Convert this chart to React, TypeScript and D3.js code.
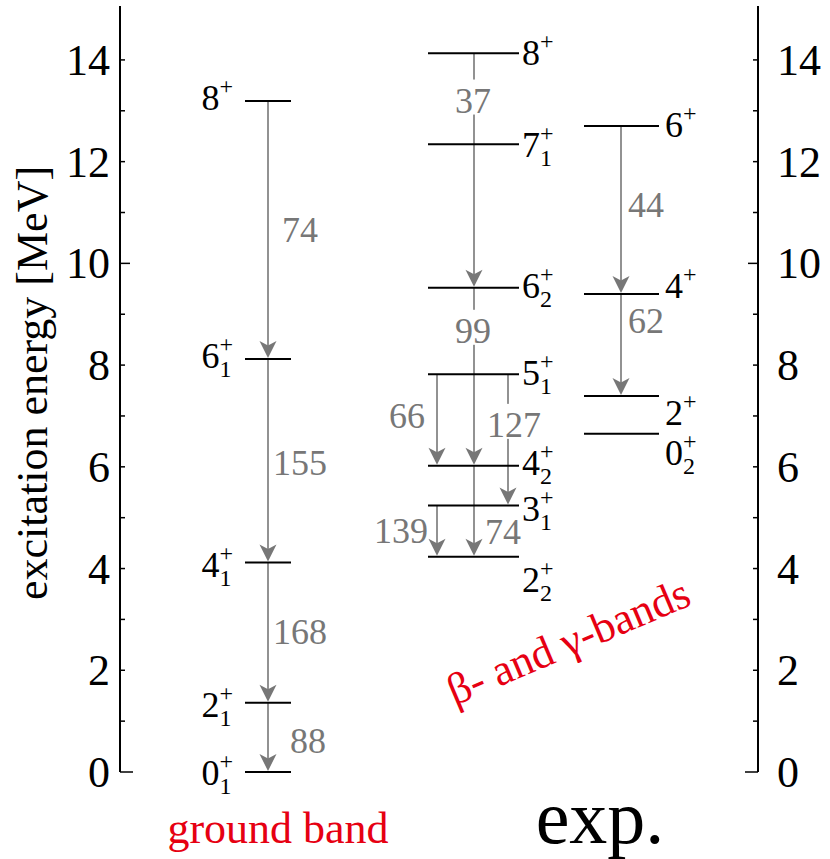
import React from 'react';
import * as d3 from 'd3';

// ---------- data ----------
const yMajorTicks = [0, 2, 4, 6, 8, 10, 12, 14];
const yMinorTicks = [1, 3, 5, 7, 9, 11, 13];

// ground band levels (MeV)
const groundJ = ['0', '2', '4', '6', '8'];
const groundSub = ['1', '1', '1', '1', ''];
const groundE = [0, 1.36, 4.12, 8.12, 13.19];
// transitions: [from index, to index, B(E2) value]
const groundTrans: [number, number, number][] = [
  [4, 3, 74],
  [3, 2, 155],
  [2, 1, 168],
  [1, 0, 88],
];

// beta- and gamma-band levels
const bandJ = ['2', '3', '4', '5', '6', '7', '8'];
const bandSub = ['2', '1', '2', '1', '2', '1', ''];
const bandE = [4.23, 5.24, 6.02, 7.82, 9.52, 12.34, 14.13];
const bandTrans: [number, number, number][] = [
  [6, 4, 37],
  [4, 2, 99],
  [3, 2, 66],
  [3, 1, 127],
  [2, 0, 74],
  [1, 0, 139],
];

// second 0+ band levels
const band2J = ['0', '2', '4', '6'];
const band2Sub = ['2', '', '', ''];
const band2E = [6.65, 7.39, 9.4, 12.7];
const band2Trans: [number, number, number][] = [
  [3, 2, 44],
  [2, 1, 62],
];

// ---------- layout ----------
const W = 830;
const H = 859;
const AX_L = 120;
const AX_R = 758;
const y = d3.scaleLinear().domain([0, 15.06]).range([772, 6]);

const LVL_FONT = 36;
const SCRIPT_FONT = 24;
const TR_FONT = 36;
const GREY = '#777777';
const RED = '#e60012';
const SERIF = '"Liberation Serif", "Times New Roman", serif';

type Place = { ax: number; anchor: 'start' | 'middle' | 'end'; dx: number; dy: number; bg?: boolean };

const groundLayout = {
  x1: 245,
  x2: 291,
  labelX: 233,
  labelAnchor: 'end' as const,
  labelDy: [13, 14, 15, 9, 9],
  trans: [
    { ax: 268, anchor: 'start', dx: 14, dy: 12 },
    { ax: 268, anchor: 'start', dx: 5, dy: 14 },
    { ax: 268, anchor: 'start', dx: 5, dy: 11 },
    { ax: 268, anchor: 'start', dx: 22, dy: 16 },
  ] as Place[],
};

const bandLayout = {
  x1: 428,
  x2: 519,
  labelX: 522,
  labelAnchor: 'start' as const,
  labelDy: [35, 16, 9, 11, 10, 13, 12],
  trans: [
    { ax: 474, anchor: 'middle', dx: -1, dy: -58, bg: true },
    { ax: 474, anchor: 'middle', dx: -1, dy: -34, bg: true },
    { ax: 437, anchor: 'end', dx: -12, dy: 8 },
    { ax: 508, anchor: 'start', dx: -21, dy: -3, bg: true },
    { ax: 474, anchor: 'start', dx: 11, dy: 33 },
    { ax: 437, anchor: 'end', dx: -9, dy: 12 },
  ] as Place[],
};

const band2Layout = {
  x1: 584,
  x2: 659,
  labelX: 665,
  labelAnchor: 'start' as const,
  labelDy: [31, 29, 4, 11],
  trans: [
    { ax: 621, anchor: 'start', dx: 7, dy: 7 },
    { ax: 621, anchor: 'start', dx: 7, dy: -12 },
  ] as Place[],
};

function LevelLabel({ x, yb, J, sub, anchor }: { x: number; yb: number; J: string; sub: string; anchor: 'start' | 'end' }) {
  const mainW = LVL_FONT * 0.5;
  const scriptW = SCRIPT_FONT * 0.564;
  const mainX = anchor === 'start' ? x : x - scriptW;
  const scriptX = anchor === 'start' ? x + mainW : x - scriptW;
  return (
    <g fill="#000" fontFamily={SERIF}>
      <text x={mainX} y={yb} fontSize={LVL_FONT} textAnchor={anchor}>{J}</text>
      <text x={scriptX} y={yb - 16} fontSize={SCRIPT_FONT}>+</text>
      {sub && <text x={scriptX} y={yb + 9} fontSize={SCRIPT_FONT}>{sub}</text>}
    </g>
  );
}

function arrowHead(x: number, tip: number) {
  return `M${x},${tip} L${x - 8.5},${tip - 17} L${x},${tip - 12.5} L${x + 8.5},${tip - 17} Z`;
}

function Band({ J, sub, E, trans, layout }: { J: string[]; sub: string[]; E: number[]; trans: [number, number, number][]; layout: any }) {
  return (
    <g>
      {trans.map(([f, t], i) => {
        const p: Place = layout.trans[i];
        const y1 = y(E[f]);
        const y2 = y(E[t]);
        return (
          <g key={'t' + i}>
            <line x1={p.ax} x2={p.ax} y1={y1} y2={y2 - 12} stroke={GREY} strokeWidth={1.6} />
            <path d={arrowHead(p.ax, y2 - 1)} fill={GREY} />
          </g>
        );
      })}
      {E.map((e, i) => (
        <line key={'l' + i} x1={layout.x1} x2={layout.x2} y1={y(e)} y2={y(e)} stroke="#000" strokeWidth={2} />
      ))}
      {trans.map(([f, t, v], i) => {
        const p: Place = layout.trans[i];
        const ym = (y(E[f]) + y(E[t])) / 2 + p.dy;
        const tx = p.ax + p.dx;
        const s = String(v);
        const w = s.length * TR_FONT * 0.5 + 4;
        const rx = p.anchor === 'start' ? tx - 2 : p.anchor === 'end' ? tx - w + 2 : tx - w / 2;
        return (
          <g key={'v' + i}>
            {p.bg && <rect x={rx} y={ym - 33} width={w} height={35} fill="#fff" />}
            <text x={tx} y={ym} fontSize={TR_FONT} fill={GREY} textAnchor={p.anchor} fontFamily={SERIF}>{s}</text>
          </g>
        );
      })}
      {E.map((e, i) => (
        <LevelLabel key={'n' + i} x={layout.labelX} yb={y(e) + layout.labelDy[i]} J={J[i]} sub={sub[i]} anchor={layout.labelAnchor} />
      ))}
    </g>
  );
}

export default function App() {
  const tickLen = (v: number) => (v === 10 ? 10 : v === 0 ? 13 : 5);
  return (
    <svg width={W} height={H} viewBox={`0 0 ${W} ${H}`} style={{ position: 'absolute', left: 0, top: 0, background: '#fff' }}>
      <rect x={0} y={0} width={W} height={H} fill="#fff" />
      <line x1={AX_L} x2={AX_L} y1={y.range()[1]} y2={y(0)} stroke="#000" strokeWidth={2} />
      {yMajorTicks.concat(yMinorTicks).map((v) => (
        <line key={'lt' + v} x1={AX_L} x2={AX_L + tickLen(v)} y1={y(v)} y2={y(v)} stroke="#000" strokeWidth={1.5} />
      ))}
      {yMajorTicks.map((v) => (
        <text key={'ll' + v} x={110} y={y(v) + 15} fontSize={44} textAnchor="end" fontFamily={SERIF} fill="#000">{v}</text>
      ))}
      <line x1={AX_R} x2={AX_R} y1={y.range()[1]} y2={y(0)} stroke="#000" strokeWidth={2} />
      {yMajorTicks.concat(yMinorTicks).map((v) => (
        <line key={'rt' + v} x1={AX_R} x2={AX_R - tickLen(v)} y1={y(v)} y2={y(v)} stroke="#000" strokeWidth={1.5} />
      ))}
      {yMajorTicks.map((v) => (
        <text key={'rl' + v} x={777} y={y(v) + 15} fontSize={44} textAnchor="start" fontFamily={SERIF} fill="#000">{v}</text>
      ))}
      <text transform="translate(47,383) rotate(-90)" fontSize={44} textAnchor="middle" fontFamily={SERIF} fill="#000">
        excitation energy [MeV]
      </text>

      <Band J={groundJ} sub={groundSub} E={groundE} trans={groundTrans} layout={groundLayout} />
      <Band J={bandJ} sub={bandSub} E={bandE} trans={bandTrans} layout={bandLayout} />
      <Band J={band2J} sub={band2Sub} E={band2E} trans={band2Trans} layout={band2Layout} />

      <text x={278} y={843} fontSize={44} textAnchor="middle" fontFamily={SERIF} fill={RED}>ground band</text>
      <text transform="translate(574,655) rotate(-23)" fontSize={44} textAnchor="middle" fontFamily={SERIF} fill={RED}>
        β- and γ-bands
      </text>
      <text x={600} y={843} fontSize={76} textAnchor="middle" fontFamily={SERIF} fill="#000">exp.</text>
    </svg>
  );
}
